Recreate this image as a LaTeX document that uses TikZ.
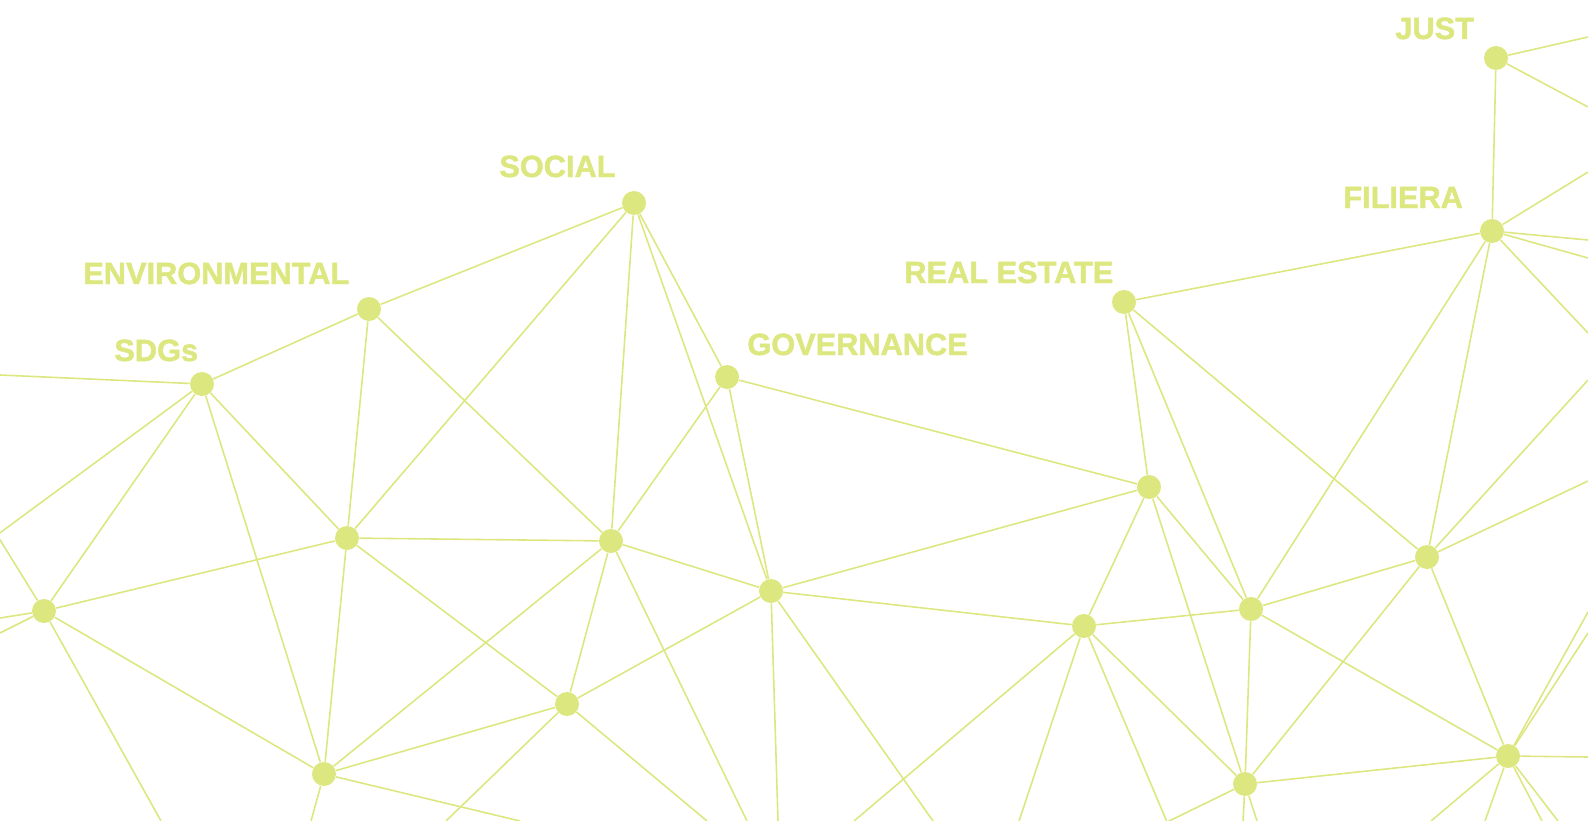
\documentclass[tikz,border=0pt]{standalone}
\usepackage{fontspec}
\setmainfont{Liberation Sans}[BoldFeatures={FakeBold=1.6}]
\usepackage{xcolor}
\usepackage{tikz}
\definecolor{lime}{RGB}{220,231,128}

\begin{document}
\begin{tikzpicture}[x=0.02cm, y=-0.02cm,
        dot/.style = {circle, fill = lime, inner sep = 0pt, minimum size = 0.48cm},
        tag/.style = {anchor = base west, inner sep = 0pt, text = lime,
            font = \fontsize{17.5}{20}\selectfont\bfseries},
        link/.style = {draw = lime, line width = 0.9pt}]
        \useasboundingbox (0, 0) rectangle (1588, 821);
        \clip (0, 0) rectangle (1588, 821);

        \node [dot] (just) at (1496, 58) {};
        \node [dot] (filiera) at (1492, 231) {};
        \node [dot] (social) at (634, 203) {};
        \node [dot] (env) at (369, 309) {};
        \node [dot] (sdgs) at (202, 384) {};
        \node [dot] (gov) at (727, 377) {};
        \node [dot] (realest) at (1124, 302) {};
        \node [dot] (a) at (1149, 487) {};
        \node [dot] (b) at (611, 541) {};
        \node [dot] (c) at (347, 538) {};
        \node [dot] (d) at (44, 611) {};
        \node [dot] (e) at (771, 591) {};
        \node [dot] (f) at (1084, 626) {};
        \node [dot] (g) at (1251, 609) {};
        \node [dot] (h) at (1427, 557) {};
        \node [dot] (i) at (567, 704) {};
        \node [dot] (j) at (324, 774) {};
        \node [dot] (k) at (1508, 756) {};
        \node [dot] (l) at (1245, 784) {};

        \node [tag] (justtag) at (1395, 39) {JUST};
        \node [tag] (filieratag) at (1343, 208) {FILIERA};
        \node [tag] (socialtag) at (499, 177) {SOCIAL};
        \node [tag] (envtag) at (83, 284) {ENVIRONMENTAL};
        \node [tag] (sdgstag) at (114, 361) {SDGs};
        \node [tag] (govtag) at (747, 355) {GOVERNANCE};
        \node [tag] (realesttag) at (904, 283) {REAL ESTATE};

        \coordinate (w1) at (0, 375);
        \coordinate (w2) at (-3, 535);
        \coordinate (w3) at (0, 618);
        \coordinate (w4) at (0, 633);
        \coordinate (e1) at (1588, 37);
        \coordinate (e2) at (1588, 107);
        \coordinate (e3) at (1588, 172);
        \coordinate (e4) at (1588, 240);
        \coordinate (e5) at (1588, 258);
        \coordinate (e6) at (1588, 333);
        \coordinate (e7) at (1588, 380);
        \coordinate (e8) at (1588, 481);
        \coordinate (e9) at (1588, 612);
        \coordinate (e10) at (1588, 633);
        \coordinate (e11) at (1588, 757);
        \coordinate (s1) at (161, 821);
        \coordinate (s2) at (311, 821);
        \coordinate (s3) at (446, 821);
        \coordinate (s4) at (520, 821);
        \coordinate (s5) at (707, 821);
        \coordinate (s6) at (747, 821);
        \coordinate (s7) at (778, 821);
        \coordinate (s8) at (854, 821);
        \coordinate (s9) at (933, 821);
        \coordinate (s10) at (1019, 821);
        \coordinate (s11) at (1167, 822);
        \coordinate (s12) at (1243, 821);
        \coordinate (s13) at (1257, 821);
        \coordinate (s14) at (1431, 821);
        \coordinate (s15) at (1485, 821);
        \coordinate (s16) at (1542, 821);
        \coordinate (s17) at (1558, 821);

        \draw [link] (w1) -- (sdgs) -- (env) -- (social) -- (gov) -- (a);
        \draw [link] (social) -- (c);
        \draw [link] (social) -- (b);
        \draw [link] (social) -- (e);
        \draw [link] (env) -- (c);
        \draw [link] (env) -- (b);
        \draw [link] (sdgs) -- (c);
        \draw [link] (sdgs) -- (d);
        \draw [link] (sdgs) -- (j);
        \draw [link] (sdgs) -- (w2) -- (d);
        \draw [link] (gov) -- (b);
        \draw [link] (gov) -- (e);
        \draw [link] (realest) -- (filiera) -- (just);
        \draw [link] (realest) -- (a);
        \draw [link] (realest) -- (g);
        \draw [link] (realest) -- (h);
        \draw [link] (filiera) -- (g);
        \draw [link] (filiera) -- (h);
        \draw [link] (d) -- (c) -- (b) -- (e);
        \draw [link] (d) -- (j) -- (i) -- (e);
        \draw [link] (c) -- (j);
        \draw [link] (c) -- (i);
        \draw [link] (b) -- (i);
        \draw [link] (b) -- (j);
        \draw [link] (e) -- (a) -- (f) -- (e);
        \draw [link] (a) -- (g);
        \draw [link] (a) -- (l);
        \draw [link] (f) -- (g) -- (h);
        \draw [link] (g) -- (l);
        \draw [link] (g) -- (k);
        \draw [link] (f) -- (l);
        \draw [link] (h) -- (l) -- (k) -- (h);

        \draw [link] (d) -- (w3);
        \draw [link] (d) -- (w4);
        \draw [link] (d) -- (s1);
        \draw [link] (j) -- (s2);
        \draw [link] (j) -- (s4);
        \draw [link] (i) -- (s3);
        \draw [link] (i) -- (s5);
        \draw [link] (b) -- (s6);
        \draw [link] (e) -- (s7);
        \draw [link] (e) -- (s9);
        \draw [link] (f) -- (s8);
        \draw [link] (f) -- (s10);
        \draw [link] (f) -- (s11) -- (l);
        \draw [link] (l) -- (s12);
        \draw [link] (l) -- (s13);
        \draw [link] (k) -- (s14);
        \draw [link] (k) -- (s15);
        \draw [link] (k) -- (s16);
        \draw [link] (k) -- (s17);
        \draw [link] (k) -- (e9);
        \draw [link] (k) -- (e10);
        \draw [link] (k) -- (e11);
        \draw [link] (h) -- (e7);
        \draw [link] (h) -- (e8);
        \draw [link] (filiera) -- (e3);
        \draw [link] (filiera) -- (e4);
        \draw [link] (filiera) -- (e5);
        \draw [link] (filiera) -- (e6);
        \draw [link] (just) -- (e1);
        \draw [link] (just) -- (e2);
    \end{tikzpicture}
\end{document}
